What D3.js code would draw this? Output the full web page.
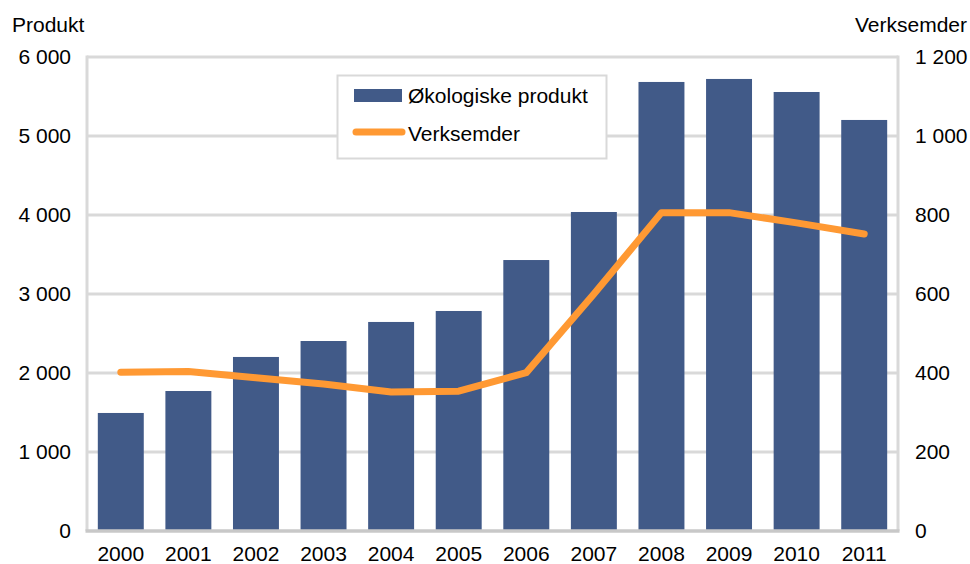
<!DOCTYPE html>
<html>
<head>
<meta charset="utf-8">
<script src="https://cdn.jsdelivr.net/npm/d3@7"></script>
<style>
  body { margin: 0; background: #fff; }
  text { font-family: "Liberation Sans", Arial, sans-serif; font-size: 21px; fill: #000; white-space: pre; }
</style>
</head>
<body>
<div class="chart"></div>
<script>
// data
var years = ["2000", "2001", "2002", "2003", "2004", "2005", "2006", "2007", "2008", "2009", "2010", "2011"];
var produkt = [1494, 1772, 2203, 2405, 2646, 2785, 3430, 4038, 5684, 5722, 5557, 5203];
var verksemder = [402, 404, 388, 372, 352, 354, 401, 600, 806, 806, 780, 752];
var leftTicks = [0, 1000, 2000, 3000, 4000, 5000, 6000];
var rightTicks = [0, 200, 400, 600, 800, 1000, 1200];

var svgWidth = 970;
var svgHeight = 564;
var margin = { top: 57, right: 72, bottom: 33, left: 87 };
var chartWidth = svgWidth - margin.left - margin.right;
var chartHeight = svgHeight - margin.top - margin.bottom;

var barColor = "#415a88";
var lineColor = "#ff9933";
var gridColor = "#d9d9d9";

// thousands with a space, like "6 000"
function fmt(v) {
  return d3.format(",")(v).replace(/,/g, "\u00a0");
}

var svg = d3.select(".chart")
  .append("svg")
  .attr("width", svgWidth)
  .attr("height", svgHeight);

var chartGroup = svg.append("g")
  .attr("transform", `translate(${margin.left}, ${margin.top})`);

var x = d3.scaleBand()
  .domain(years)
  .range([0, chartWidth])
  .paddingInner(0.32)
  .paddingOuter(0.16);

var yLeft = d3.scaleLinear().domain([0, 6000]).range([chartHeight, 0]);
var yRight = d3.scaleLinear().domain([0, 1200]).range([chartHeight, 0]);

//gridlines
chartGroup.append("g")
  .selectAll("line")
  .data(leftTicks.slice(1))
  .enter()
  .append("line")
  .attr("x1", 0)
  .attr("x2", chartWidth)
  .attr("y1", d => yLeft(d))
  .attr("y2", d => yLeft(d))
  .attr("stroke", gridColor)
  .attr("stroke-width", 3);

//left and right frame
chartGroup.append("line")
  .attr("x1", 0).attr("x2", 0)
  .attr("y1", -1.5).attr("y2", chartHeight)
  .attr("stroke", gridColor).attr("stroke-width", 3);
chartGroup.append("line")
  .attr("x1", chartWidth).attr("x2", chartWidth)
  .attr("y1", -1.5).attr("y2", chartHeight)
  .attr("stroke", gridColor).attr("stroke-width", 3);

//bars
chartGroup.selectAll("rect.bar")
  .data(produkt)
  .enter()
  .append("rect")
  .classed("bar", true)
  .attr("x", (d, i) => x(years[i]))
  .attr("y", d => yLeft(d))
  .attr("width", x.bandwidth())
  .attr("height", d => chartHeight - yLeft(d))
  .attr("fill", barColor);

//bottom axis line
chartGroup.append("line")
  .attr("x1", -1.5).attr("x2", chartWidth + 1.5)
  .attr("y1", chartHeight).attr("y2", chartHeight)
  .attr("stroke", "#c8c8c8").attr("stroke-width", 3.5);

//verksemder line
var line = d3.line()
  .x((d, i) => x(years[i]) + x.bandwidth() / 2)
  .y(d => yRight(d));

chartGroup.append("path")
  .datum(verksemder)
  .attr("d", line)
  .attr("fill", "none")
  .attr("stroke", lineColor)
  .attr("stroke-width", 7)
  .attr("stroke-linecap", "round")
  .attr("stroke-linejoin", "round");

//axes (labels only)
var leftAxis = d3.axisLeft(yLeft).tickValues(leftTicks).tickFormat(fmt).tickSize(0).tickPadding(16);
var rightAxis = d3.axisRight(yRight).tickValues(rightTicks).tickFormat(fmt).tickSize(0).tickPadding(17);
var bottomAxis = d3.axisBottom(x).tickSize(0).tickPadding(15);

[chartGroup.append("g").call(leftAxis),
 chartGroup.append("g").attr("transform", `translate(${chartWidth}, 0)`).call(rightAxis),
 chartGroup.append("g").attr("transform", `translate(0, ${chartHeight})`).call(bottomAxis)
].forEach(function (g) {
  g.select(".domain").remove();
  g.selectAll("text")
    .attr("font-family", null)
    .attr("font-size", null)
    .attr("fill", "#000");
});

//axis titles
svg.append("text")
  .attr("x", 12)
  .attr("y", 32)
  .text("Produkt");

svg.append("text")
  .attr("x", 967)
  .attr("y", 32)
  .attr("text-anchor", "end")
  .text("Verksemder");

//legend
var legend = svg.append("g");
legend.append("rect")
  .attr("x", 337.5).attr("y", 75.5)
  .attr("width", 269).attr("height", 83)
  .attr("fill", "#fff")
  .attr("stroke", gridColor)
  .attr("stroke-width", 2);

legend.append("rect")
  .attr("x", 354).attr("y", 89)
  .attr("width", 48).attr("height", 13)
  .attr("fill", barColor);
legend.append("text")
  .attr("x", 408).attr("y", 103)
  .text("Økologiske produkt");

legend.append("line")
  .attr("x1", 356).attr("x2", 402)
  .attr("y1", 132).attr("y2", 132)
  .attr("stroke", lineColor)
  .attr("stroke-width", 7)
  .attr("stroke-linecap", "round");
legend.append("text")
  .attr("x", 408).attr("y", 141)
  .text("Verksemder");
</script>
</body>
</html>
